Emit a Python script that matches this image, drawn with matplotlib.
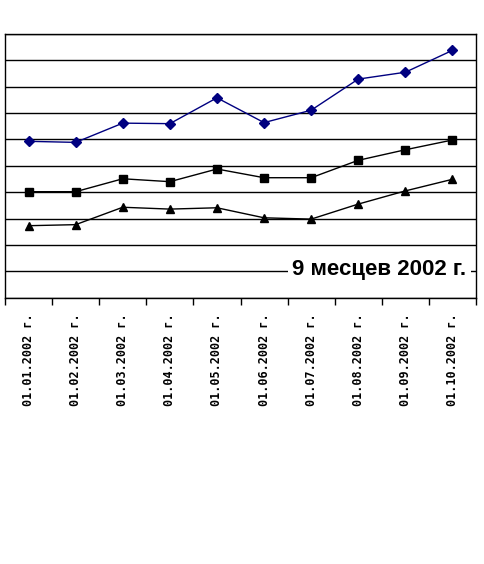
import numpy as np
import matplotlib.pyplot as plt

dates = ["01.01.2002 г.", "01.02.2002 г.", "01.03.2002 г.", "01.04.2002 г.",
         "01.05.2002 г.", "01.06.2002 г.", "01.07.2002 г.", "01.08.2002 г.",
         "01.09.2002 г.", "01.10.2002 г."]
top_series = [5.93, 5.89, 6.62, 6.60, 7.58, 6.64, 7.11, 8.29, 8.55, 9.38]
mid_series = [4.02, 4.02, 4.51, 4.40, 4.88, 4.55, 4.55, 5.21, 5.61, 5.98]
low_series = [2.73, 2.77, 3.43, 3.36, 3.41, 3.03, 2.98, 3.55, 4.05, 4.49]
caption = "9 месцев 2002 г."

fig = plt.figure(figsize=(4.85, 5.64), dpi=100)
ax = fig.add_axes([5 / 485, 1 - 297.7 / 564, 471 / 485, 263.7 / 564])

x = np.arange(len(dates))
ax.plot(x, top_series, color="#000080", lw=1, marker="D", ms=5, zorder=3)
ax.plot(x, mid_series, color="black", lw=1, marker="s", ms=5.5, zorder=3)
ax.plot(x, low_series, color="black", lw=1, marker="^", ms=6, zorder=3)

ax.set_xlim(-0.5, len(dates) - 0.5)
ax.set_ylim(0, 10)
ax.set_yticks(np.arange(0, 11, 1))
ax.yaxis.grid(True, color="black", lw=1)
ax.tick_params(axis="y", left=False, labelleft=False)

# labels in the middle of each category, tick marks between categories
ax.set_xticks(x)
ax.set_xticklabels(dates, rotation=90, fontsize=8.5,
                   family="DejaVu Sans Mono", fontweight="bold")
ax.tick_params(axis="x", which="major", length=0, pad=11)
ax.set_xticks(list(x - 0.5) + [len(dates) - 0.5], minor=True)
ax.tick_params(axis="x", which="minor", length=5, width=1, color="black")

for s in ax.spines.values():
    s.set_color("black")
    s.set_linewidth(1)

ax.text(7.45, 1.08, caption, fontsize=16, fontweight="bold",
        family="Liberation Sans", ha="center", va="center",
        bbox=dict(facecolor="white", edgecolor="none", pad=3), zorder=4)

fig.savefig("out.png", dpi=100, facecolor="white")
